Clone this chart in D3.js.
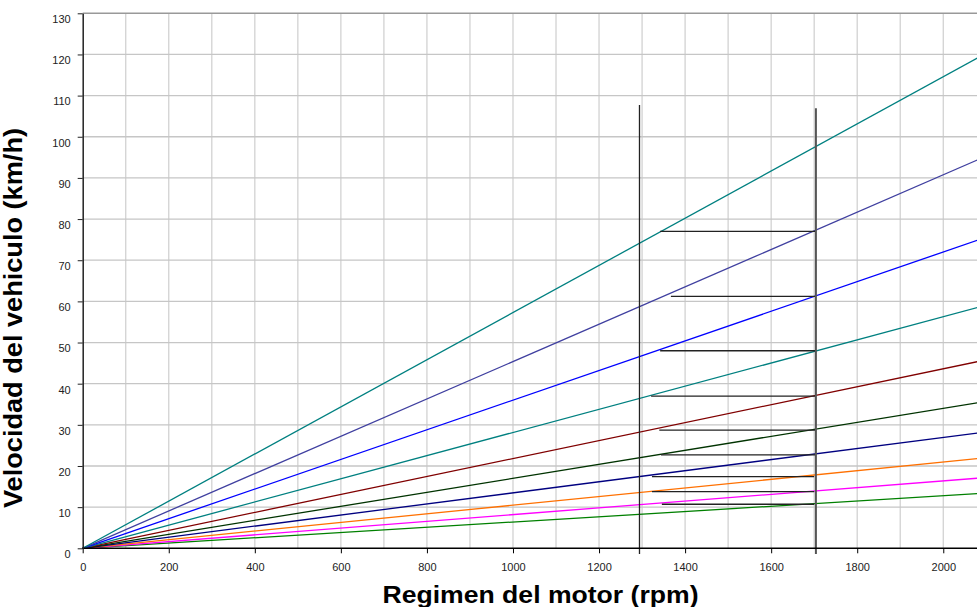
<!DOCTYPE html>
<html>
<head>
<meta charset="utf-8">
<script src="https://cdn.jsdelivr.net/npm/d3@7"></script>
<style>
  body { margin: 0; background: #fff; }
  svg { display: block; font-family: "Liberation Sans", Arial, sans-serif; }
</style>
</head>
<body>
<div id="w"></div>
<script>
// gears: speed (km/h) reached at the right end rpm
var rpmEnds = [0, 2100]
var gears = ["1", "2", "3", "4", "5", "6", "7", "8", "9", "10"]
var speedAtEnd = [13.4, 17.2, 22.0, 28.3, 35.7, 45.8, 59.1, 75.6, 95.3, 120.3]
var gearColors = ["#008000", "#ff00ff", "#ff7000", "#000080", "#003300",
                  "#800000", "#008080", "#0000ff", "#4040a0", "#008080"]

// shift steps: horizontal segments
var stepSpeed = [10.7, 13.75, 17.4, 22.7, 28.7, 37.0, 48.0, 61.2, 77.0]
var stepFrom  = [1346, 1323, 1323, 1344, 1340, 1321, 1342, 1367, 1342]
var stepTo    = [1700, 1700, 1700, 1704, 1704, 1704, 1704, 1704, 1704]

// vertical marker lines
var markRpm = [1294, 1704]
var markTop = [107.7, 106.9]
var markBottom = -1.4

var xTicks = d3.range(0, 2001, 200)
var yTicks = d3.range(0, 131, 10)

var W = 977, H = 607
var svg = d3.select("#w").append("svg")
            .attr("width", W)
            .attr("height", H)

var x = d3.scaleLinear().domain([0, 2100]).range([82.7, 986.3])
var y = d3.scaleLinear().domain([0, 130]).range([548.3, 13.3])

// grid
svg.append("g").selectAll("line")
   .data(d3.range(100, 2101, 100))
   .enter().append("line")
   .attr("x1", d => x(d)).attr("x2", d => x(d))
   .attr("y1", y(0)).attr("y2", y(130))
   .attr("stroke", "#d2d2d2").attr("stroke-width", 1.3)

svg.append("g").selectAll("line")
   .data(d3.range(10, 130, 10))
   .enter().append("line")
   .attr("x1", x(0)).attr("x2", W)
   .attr("y1", d => y(d)).attr("y2", d => y(d))
   .attr("stroke", "#c6c6c6").attr("stroke-width", 1.3)

// top border
svg.append("line")
   .attr("x1", x(0)).attr("x2", W)
   .attr("y1", y(130)).attr("y2", y(130))
   .attr("stroke", "#999").attr("stroke-width", 1.5)

// gear lines
var line = d3.line().x(d => x(d[0])).y(d => y(d[1]))
svg.append("g").selectAll("path")
   .data(gears)
   .enter().append("path")
   .attr("d", (g, i) => line(rpmEnds.map(r => [r, speedAtEnd[i] * r / rpmEnds[1]])))
   .attr("fill", "none")
   .attr("stroke", (g, i) => gearColors[i])
   .attr("stroke-width", 1.3)

// shift steps
svg.append("g").selectAll("line")
   .data(stepSpeed)
   .enter().append("line")
   .attr("x1", (d, i) => x(stepFrom[i])).attr("x2", (d, i) => x(stepTo[i]))
   .attr("y1", d => y(d)).attr("y2", d => y(d))
   .attr("stroke", "#222").attr("stroke-width", 1.3)

// markers
svg.append("g").selectAll("line")
   .data(markRpm)
   .enter().append("line")
   .attr("x1", d => x(d)).attr("x2", d => x(d))
   .attr("y1", (d, i) => y(markTop[i])).attr("y2", y(markBottom))
   .attr("stroke", (d, i) => i ? "#555" : "#222")
   .attr("stroke-width", (d, i) => i ? 2 : 1.3)

// axes
var xAxis = d3.axisBottom(x).tickValues(xTicks).tickFormat(d3.format("d")).tickSize(5).tickSizeOuter(0)
var gx = svg.append("g").attr("transform", "translate(0," + y(0) + ")").call(xAxis)
gx.select(".domain").attr("d", "M" + x(0) + ",0H" + W).attr("stroke", "#000").attr("stroke-width", 1.5)
gx.selectAll(".tick line").attr("stroke", "#000")
gx.selectAll(".tick text").attr("font-size", 11).attr("fill", "#222")
  .attr("font-family", "Liberation Sans, Arial, sans-serif").attr("dy", "1.35em")

var yAxis = d3.axisLeft(y).tickValues(yTicks).tickFormat(d3.format("d")).tickSize(5).tickSizeOuter(0)
var gy = svg.append("g").attr("transform", "translate(" + x(0) + ",0)").call(yAxis)
gy.select(".domain").attr("stroke", "#222").attr("stroke-width", 1.5)
gy.selectAll(".tick line").attr("stroke", "#222")
gy.selectAll(".tick text").attr("font-size", 11).attr("fill", "#222")
  .attr("font-family", "Liberation Sans, Arial, sans-serif")
  .attr("x", -12).attr("dy", "0.85em")

// titles
svg.append("text")
   .attr("x", 540.5).attr("y", 603)
   .attr("text-anchor", "middle")
   .attr("font-size", 24).attr("font-weight", "bold")
   .attr("textLength", 316).attr("lengthAdjust", "spacingAndGlyphs")
   .text("Regimen del motor (rpm)")

svg.append("text")
   .attr("transform", "translate(22,318) rotate(-90)")
   .attr("text-anchor", "middle")
   .attr("font-size", 25).attr("font-weight", "bold")
   .attr("textLength", 380).attr("lengthAdjust", "spacingAndGlyphs")
   .text("Velocidad del vehiculo (km/h)")
</script>
</body>
</html>
